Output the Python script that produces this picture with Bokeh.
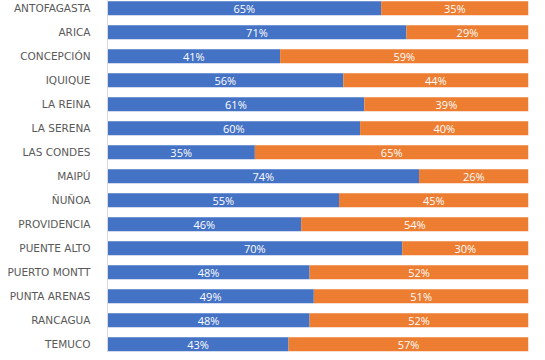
from bokeh.plotting import figure
from bokeh.models import ColumnDataSource, Range1d, FixedTicker
from bokeh.core.properties import value
from bokeh.embed import file_html
from bokeh.resources import INLINE

cities = ["ANTOFAGASTA", "ARICA", "CONCEPCIÓN", "IQUIQUE", "LA REINA", "LA SERENA",
          "LAS CONDES", "MAIPÚ", "ÑUÑOA", "PROVIDENCIA", "PUENTE ALTO", "PUERTO MONTT",
          "PUNTA ARENAS", "RANCAGUA", "TEMUCO"]
blue_pct = [65, 71, 41, 56, 61, 60, 35, 74, 55, 46, 70, 48, 49, 48, 43]
orange_pct = [35, 29, 59, 44, 39, 40, 65, 26, 45, 54, 30, 52, 51, 52, 57]

BLUE = "#4472C4"
ORANGE = "#ED7D31"

ypos = [-i for i in range(len(cities))]
src = ColumnDataSource(dict(
    y=ypos,
    blue=blue_pct,
    orange=orange_pct,
    total=[b + o for b, o in zip(blue_pct, orange_pct)],
    bx=[b / 2 for b in blue_pct],
    ox=[b + o / 2 for b, o in zip(blue_pct, orange_pct)],
    bl=[f"{b}%" for b in blue_pct],
    ol=[f"{o}%" for o in orange_pct],
))

p = figure(width=537, height=352, output_backend="svg", toolbar_location=None,
           x_range=Range1d(0, 100), y_range=Range1d(-14.347, 0.32),
           min_border_left=107, min_border_right=9, min_border_top=0, min_border_bottom=0,
           outline_line_color=None)

p.hbar(y="y", left=0, right="blue", height=0.58, source=src, fill_color=BLUE, line_color=None)
p.hbar(y="y", left="blue", right="total", height=0.58, source=src, fill_color=ORANGE, line_color=None)

p.text(x="bx", y="y", text="bl", source=src, text_color="white", text_align="center",
       text_baseline="middle", text_font=value("Open Sans"), text_font_size="11px")
p.text(x="ox", y="y", text="ol", source=src, text_color="white", text_align="center",
       text_baseline="middle", text_font=value("Open Sans"), text_font_size="11px")

p.xaxis.visible = False
p.xgrid.visible = False
p.ygrid.visible = False

p.yaxis.ticker = FixedTicker(ticks=ypos)
p.yaxis.major_label_overrides = {y: c for y, c in zip(ypos, cities)}
p.yaxis.major_tick_line_color = None
p.yaxis.minor_tick_line_color = None
p.yaxis.axis_line_color = "#d9d9d9"
p.yaxis.major_label_text_color = "#595959"
p.yaxis.major_label_text_font = "DejaVu Sans"
p.yaxis.major_label_text_font_size = "10.5px"
p.yaxis.major_label_standoff = 11

open("out.html", "w").write(file_html(p, INLINE))
